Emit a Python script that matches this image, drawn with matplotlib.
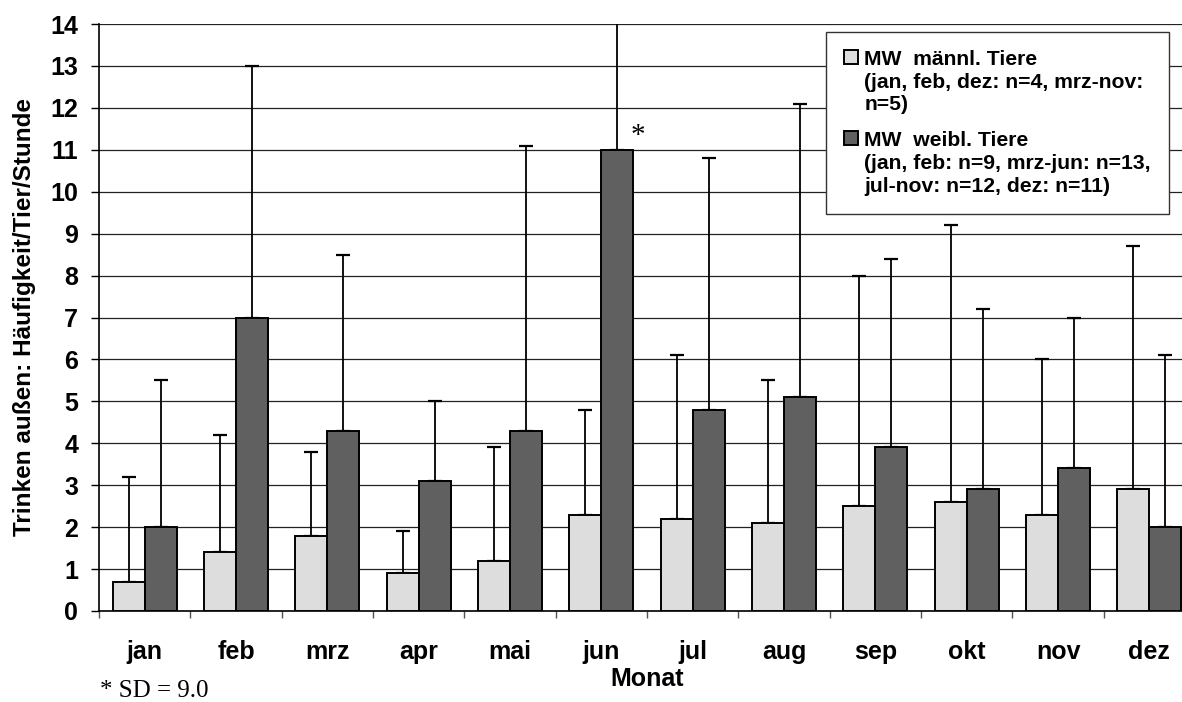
import numpy as np
import matplotlib.pyplot as plt
from matplotlib.ticker import MultipleLocator, FixedLocator

plt.rcParams['font.family'] = ['Liberation Sans', 'DejaVu Sans']
plt.rcParams['font.weight'] = 'bold'

monate = ["jan", "feb", "mrz", "apr", "mai", "jun", "jul", "aug", "sep", "okt", "nov", "dez"]

# Mittelwerte (MW) und Standardabweichungen
mw_maennl = [0.7, 1.4, 1.8, 0.9, 1.2, 2.3, 2.2, 2.1, 2.5, 2.6, 2.3, 2.9]
sd_maennl = [2.5, 2.8, 2.0, 1.0, 2.7, 2.5, 3.9, 3.4, 5.5, 6.6, 3.7, 5.8]
mw_weibl = [2.0, 7.0, 4.3, 3.1, 4.3, 11.0, 4.8, 5.1, 3.9, 2.9, 3.4, 2.0]
sd_weibl = [3.5, 6.0, 4.2, 1.9, 6.8, 9.0, 6.0, 7.0, 4.5, 4.3, 3.6, 4.1]

label_m = "MW  männl. Tiere\n(jan, feb, dez: n=4, mrz-nov:\nn=5)"
label_w = "MW  weibl. Tiere\n(jan, feb: n=9, mrz-jun: n=13,\njul-nov: n=12, dez: n=11)"

fig = plt.figure(figsize=(11.82, 7.02), dpi=100)
ax = fig.add_axes([99 / 1182, 1 - 611 / 702, 1096 / 1182, 587 / 702])

x = np.arange(len(monate))
w = 0.35

ax.bar(x - w / 2, mw_maennl, w, color="#dddddd", edgecolor="black", linewidth=1.4,
       label=label_m, zorder=3)
ax.bar(x + w / 2, mw_weibl, w, color="#606060", edgecolor="black", linewidth=1.4,
       label=label_w, zorder=3)

# nur obere Fehlerbalken
ax.errorbar(x - w / 2, mw_maennl, yerr=[np.zeros(len(x)), sd_maennl], fmt="none",
            ecolor="black", elinewidth=1.3, capsize=5, capthick=1.6, zorder=2)
ax.errorbar(x + w / 2, mw_weibl, yerr=[np.zeros(len(x)), sd_weibl], fmt="none",
            ecolor="black", elinewidth=1.3, capsize=5, capthick=1.6, zorder=2)

ax.set_xlim(-0.5, len(monate) - 0.5)
ax.set_ylim(0, 14)
ax.yaxis.set_major_locator(MultipleLocator(1))
ax.grid(axis="y", color="#222222", linewidth=0.9, zorder=0)

ax.set_xticks(x)
ax.set_xticklabels(monate, fontsize=18, fontweight="bold")
ax.xaxis.set_minor_locator(FixedLocator(np.arange(-0.5, len(monate), 1.0)))
ax.tick_params(axis="x", which="major", length=0, pad=21)
ax.tick_params(axis="x", which="minor", length=5, width=1, color="#555555", direction="out")
ax.tick_params(axis="y", length=6, width=1, color="black", pad=9, labelsize=18)
for lbl in ax.get_yticklabels():
    lbl.set_fontweight("bold")

for s in ["top", "right"]:
    ax.spines[s].set_visible(False)
ax.spines["left"].set_color("black")
ax.spines["bottom"].set_color("black")
ax.spines["left"].set_linewidth(1.2)
ax.spines["bottom"].set_linewidth(1.2)

ax.set_xlabel("Monat", fontsize=18, fontweight="bold", labelpad=2)
ax.set_ylabel("Trinken außen: Häufigkeit/Tier/Stunde", fontsize=17.5, fontweight="bold",
              labelpad=10)

# Stern am Juni-Balken (SD außerhalb des Bereichs)
i_jun = monate.index("jun")
ax.text(x[i_jun] + w + 0.05, mw_weibl[i_jun] + 0.33, "*", family="Liberation Serif",
        fontsize=21, fontweight="normal", ha="center", va="center")
fig.text(100 / 1182, 0.0, "* SD = %.1f" % sd_weibl[i_jun], family="Liberation Serif",
         fontsize=18, fontweight="normal", ha="left", va="bottom")

leg = ax.legend(loc="upper right", bbox_to_anchor=(1169 / 1182, 1 - 32 / 702),
                bbox_transform=fig.transFigure, fontsize=15.2, frameon=True, fancybox=False,
                edgecolor="#333333", framealpha=1, handlelength=0.65, handleheight=0.65,
                handletextpad=0.3, labelspacing=0.8, borderpad=0.85, borderaxespad=0)
leg.get_frame().set_linewidth(1)
for t in leg.get_texts():
    t.set_fontweight("bold")
    t.set_linespacing(1.25)
# Symbol an der ersten Zeile des Eintrags ausrichten
for col in leg._legend_handle_box.get_children():
    for row in col.get_children():
        row.align = "top"

fig.savefig("out.png", dpi=100)
